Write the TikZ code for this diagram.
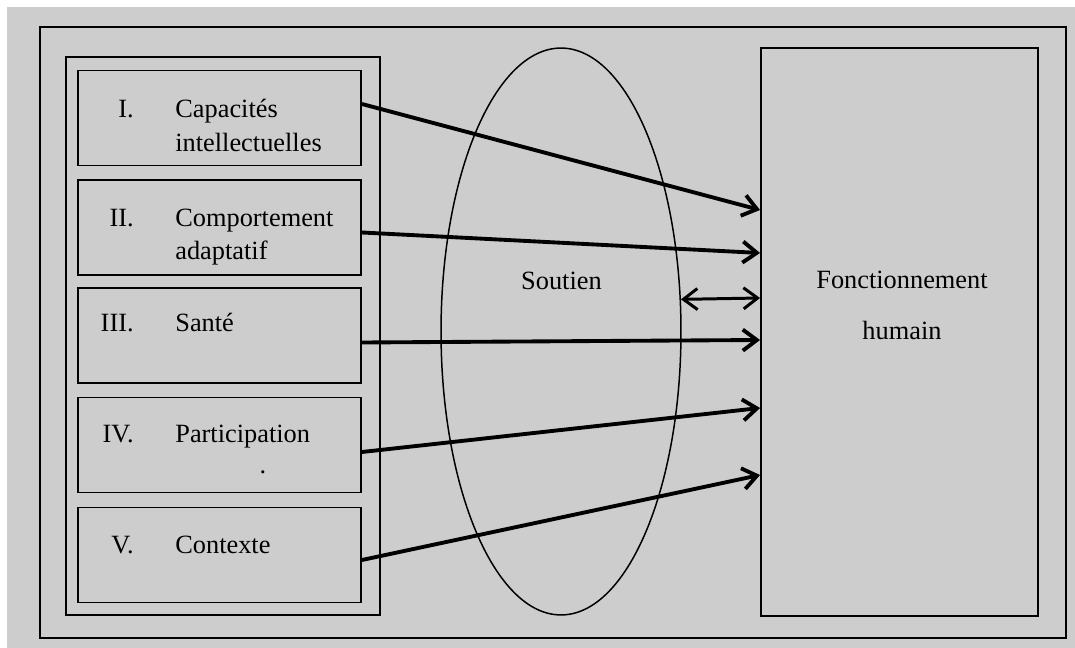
\documentclass[tikz,border=0pt]{standalone}
\usepackage{fontspec}
\setmainfont{Liberation Serif}
\usetikzlibrary{shapes.geometric,arrows.meta,calc}
\definecolor{fondgris}{RGB}{205,205,205}
\tikzset{
  dim/.style={draw, line width=1.1pt, minimum width=5.66cm, minimum height=1.9cm, inner sep=0pt},
  txt/.style={inner sep=0pt, font=\fontsize{15}{18}\selectfont},
  fleche/.style={line width=2.2pt, -{Straight Barb[length=8pt,width=12pt]}},
}
\begin{document}
\begin{tikzpicture}[x=0.02cm, y=-0.02cm]
\useasboundingbox (0,0) rectangle (1075,648);
\fill[white] (0,0) rectangle (1075,648);
\fill[fondgris] (7,7) rectangle (1075,648);

\draw[line width=1.1pt] (40,27) rectangle (1066,638);
\draw[line width=1pt] (66,57) rectangle (380,615);

\node[dim] (b1) at (219.5,118) {};
\node[dim] (b2) at (219.5,227.5) {};
\node[dim] (b3) at (219.5,335.5) {};
\node[dim] (b4) at (219.5,445) {};
\node[dim] (b5) at (219.5,555) {};

\node[txt, anchor=base east] (n1) at (134,118) {I.};
\node[txt, anchor=base west] (c1a) at (175,118) {Capacités};
\node[txt, anchor=base west] (c1b) at (175,152) {intellectuelles};
\node[txt, anchor=base east] (n2) at (134,227) {II.};
\node[txt, anchor=base west] (c2a) at (175,227) {Comportement};
\node[txt, anchor=base west] (c2b) at (175,260) {adaptatif};
\node[txt, anchor=base east] (n3) at (134,332) {III.};
\node[txt, anchor=base west] (c3) at (175,332) {Santé};
\node[txt, anchor=base east] (n4) at (134,442) {IV.};
\node[txt, anchor=base west] (c4) at (175,442) {Participation};
\node[txt, anchor=base] (pt) at (263,473) {.};
\node[txt, anchor=base east] (n5) at (134,553) {V.};
\node[txt, anchor=base west] (c5) at (175,553) {Contexte};

\node[draw, ellipse, line width=0.85pt, minimum width=4.8cm, minimum height=11.34cm, inner sep=0pt] (soutien) at (561,331.5) {};
\node[txt, anchor=base] (lsoutien) at (561.5,290) {Soutien};

\node[draw, line width=1.1pt, minimum width=5.54cm, minimum height=11.36cm, inner sep=0pt] (func) at (899.5,332) {};
\node[txt, anchor=base] (lfunc1) at (902,289) {Fonctionnement};
\node[txt, anchor=base] (lfunc2) at (902,340) {humain};

\draw[fleche] ($(b1.east)+(0,-14)$) -- ($(func.west)+(0,-122)$);
\draw[fleche] ($(b2.east)+(0,5)$) -- ($(func.west)+(0,-79)$);
\draw[fleche] ($(b3.east)+(0,7)$) -- ($(func.west)+(0,8)$);
\draw[fleche] ($(b4.east)+(0,7)$) -- ($(func.west)+(0,76)$);
\draw[fleche] ($(b5.east)+(0,5)$) -- ($(func.west)+(0,143)$);
\draw[line width=1.7pt, {Straight Barb[length=8pt,width=12pt]}-{Straight Barb[length=8pt,width=12pt]}] (soutien.15.4) -- ($(func.west)+(0,-34)$);
\end{tikzpicture}
\end{document}
